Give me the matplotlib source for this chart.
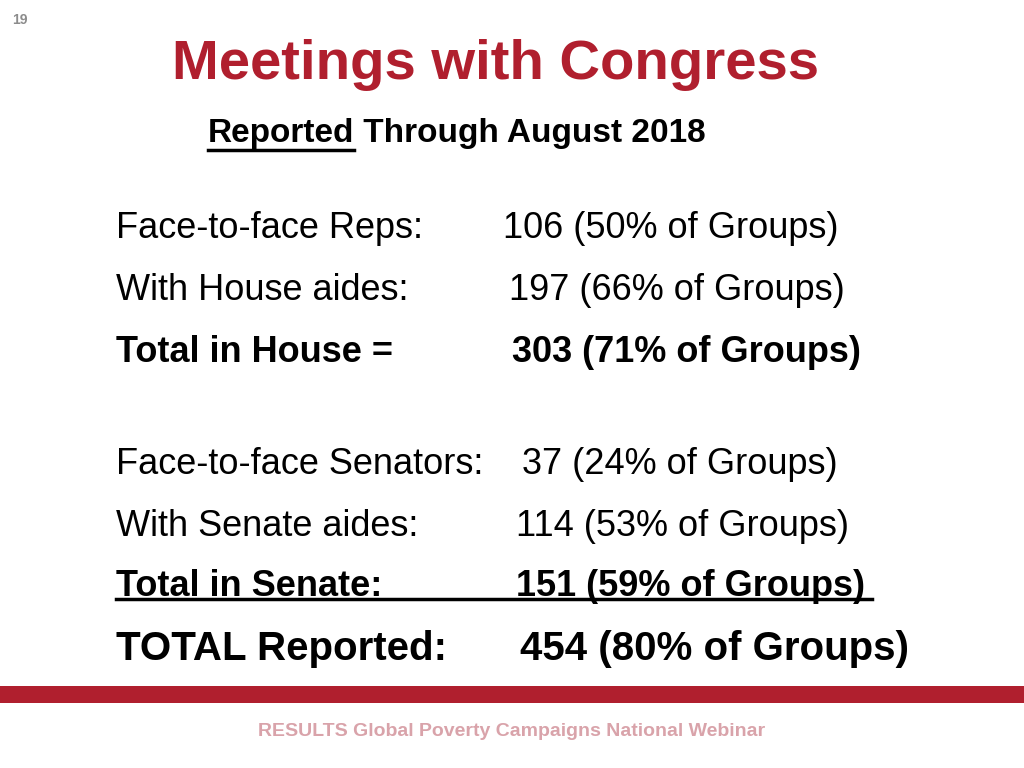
import matplotlib
matplotlib.use('Agg')
import matplotlib.pyplot as plt

plt.rcParams["font.family"] = "Liberation Sans"

# Slide text data
title = "Meetings with Congress"
subtitle_ul = "Reported"
subtitle_rest = " Through August 2018"
row_labels = ["Face-to-face Reps:", "With House aides:", "Total in House =",
              "Face-to-face Senators:", "With Senate aides:", "Total in Senate:",
              "TOTAL Reported:"]
row_counts = [106, 197, 303, 37, 114, 151, 454]
row_pcts = [50, 66, 71, 24, 53, 59, 80]
footer = "RESULTS Global Poverty Campaigns National Webinar"
page_no = "19"

W, H = 1024, 768
RED = "#B01F2E"
fig = plt.figure(figsize=(W / 100, H / 100), dpi=100)
ax = fig.add_axes([0, 0, 1, 1])
ax.set_xlim(0, W)
ax.set_ylim(H, 0)
ax.axis("off")

ax.text(12, 20, page_no, fontsize=10, color="#8c8c8c", fontweight="bold", va="center")
ax.text(495, 65, title, fontsize=40.5, color=RED, fontweight="bold", ha="center", va="center")

t1 = ax.text(208, 130, subtitle_ul, fontsize=24, fontweight="bold", va="center_baseline")
fig.canvas.draw()
bb = t1.get_window_extent()
ax.text(208 + bb.width, 130, subtitle_rest, fontsize=24, fontweight="bold", va="center_baseline")
ax.plot([208, 208 + bb.width], [150, 150], color="black", lw=2.5)

row_y = [225, 287, 348, 461, 522, 583, 645]
val_x = [503, 509, 512, 522, 516, 516, 520]
for i, (lab, c, p) in enumerate(zip(row_labels, row_counts, row_pcts)):
    bold = i in (2, 5, 6)
    size = 29 if i == 6 else 26
    w = "bold" if bold else "normal"
    ax.text(116, row_y[i], lab, fontsize=size, fontweight=w, va="center_baseline")
    ax.text(val_x[i], row_y[i], f"{c} ({p}% of Groups)", fontsize=size, fontweight=w,
            va="center_baseline")
ax.plot([116, 872], [599, 599], color="black", lw=2.5)

ax.add_patch(plt.Rectangle((0, 686), W, 17, color=RED, lw=0))
ax.text(512, 731, footer, fontsize=14, color="#D9A3AA", fontweight="bold", ha="center", va="center")

fig.savefig("out.png", dpi=100)
